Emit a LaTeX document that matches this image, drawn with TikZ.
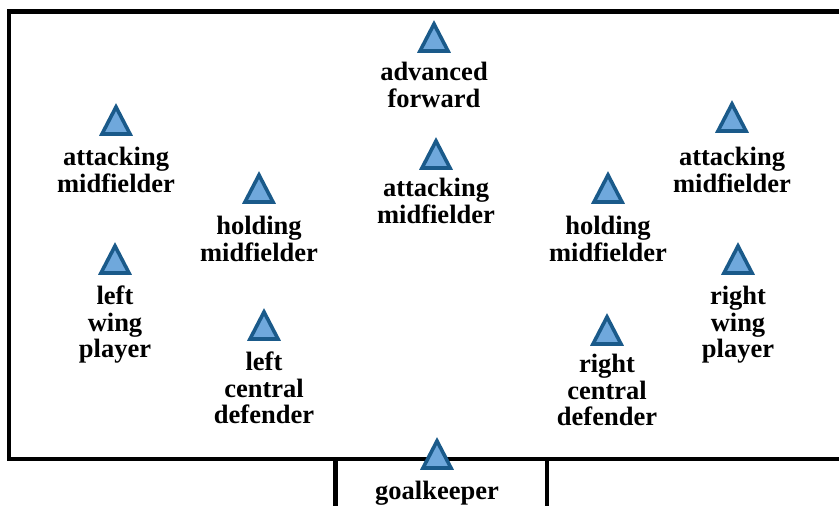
\documentclass[tikz,border=0pt]{standalone}
\usepackage{fontspec}
\setmainfont{Liberation Serif}
\definecolor{tridark}{HTML}{1A5A8A}
\definecolor{trilight}{HTML}{6FA8DC}
\begin{document}
\begin{tikzpicture}[x=1pt,y=-1pt,
  fieldline/.style={draw=black,line width=4.5pt},
  tri/.style={draw=tridark,fill=trilight,line width=3.6pt,line join=miter},
  lbl/.style={anchor=north,inner sep=0pt,align=center,text=black,
    font=\bfseries\fontsize{26.5}{26.5}\selectfont}]
\useasboundingbox (0,0) rectangle (839,506);
\clip (0,0) rectangle (839,506);
% field
\coordinate (fTL) at (9,11.5);
\coordinate (fTR) at (860,11.5);
\coordinate (fBL) at (9,459);
\coordinate (fBR) at (860,459);
\draw[fieldline,line cap=rect] (fTR) -- (fTL) -- (fBL) -- (fBR);
% goal box
\coordinate (gL) at (335.3,459);
\coordinate (gLb) at (335.3,520);
\coordinate (gR) at (547,459);
\coordinate (gRb) at (547,520);
\draw[fieldline] (gL) -- (gLb);
\draw[fieldline] (gR) -- (gRb);
% players: name/cx/tri top/text top/label
\foreach \n/\cx/\tt/\lt/\txt in {
  af/434/20/62/{advanced\\forward},
  aml/116/103/147/{attacking\\midfielder},
  amr/732/100/147/{attacking\\midfielder},
  amc/436/137/178/{attacking\\midfielder},
  hml/259/171/216/{holding\\midfielder},
  hmr/608/171/216/{holding\\midfielder},
  lw/115/242/286/{left\\wing\\player},
  rw/738/242/286/{right\\wing\\player},
  lcd/264/308/352/{left\\central\\defender},
  rcd/607/313/354/{right\\central\\defender},
  gk/437/437/481/{goalkeeper}}{
  \coordinate (t\n) at (\cx,\tt+17.5);
  \draw[tri,shift={(t\n)}] (0,-13.5) -- (-14,13.5) -- (14,13.5) -- cycle;
  \node[lbl] (l\n) at (\cx,\lt) {\txt};
}
\end{tikzpicture}
\end{document}
